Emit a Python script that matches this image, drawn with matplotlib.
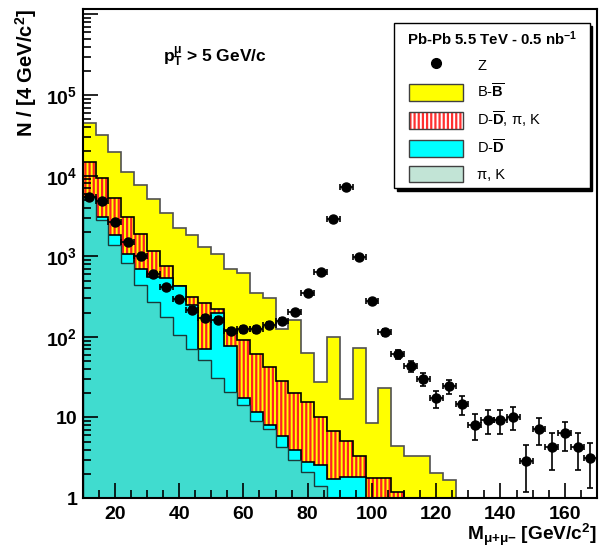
import numpy as np
import matplotlib
matplotlib.use('Agg')
import matplotlib.pyplot as plt
from matplotlib.patches import Patch
from matplotlib.lines import Line2D
from matplotlib.legend_handler import HandlerPatch, HandlerTuple, HandlerLine2D
from matplotlib.ticker import MultipleLocator, LogLocator, FuncFormatter, NullFormatter

plt.rcParams['font.family'] = ['Liberation Sans', 'DejaVu Sans']
plt.rcParams['font.weight'] = 'bold'
plt.rcParams['mathtext.fontset'] = 'custom'
plt.rcParams['mathtext.rm'] = 'Liberation Sans'
plt.rcParams['mathtext.bf'] = 'Liberation Sans:bold'
plt.rcParams['mathtext.it'] = 'Liberation Sans:italic'
plt.rcParams['hatch.linewidth'] = 1.6

# 4 GeV bins from 10 to 170
edges = np.arange(10, 171, 4)
centers = edges[:-1] + 2

# counts per bin
bb = [44600, 31600, 19600, 11200, 7580, 5130, 3400, 2220, 1820, 1300,
      1057, 689, 624, 347, 305, 124, 162, 63.5, 27.5, 98.6,
      16.9, 73.3, 8.6, 23, 4.42, 3.32, 3.32, 2.06, 1.67, 0,
      0, 0, 0, 0, 0, 0, 0, 0, 0, 0]
dd_pik = [14900, 9260, 5230, 3040, 1870, 1160, 755, 427, 315, 263,
          219, 121, 91, 61, 42.6, 28.5, 19.9, 15.4, 10, 6.7,
          5.1, 3.3, 1.75, 1.75, 1.18, 0, 0, 0, 0, 0,
          0, 0, 0, 0, 0, 0, 0, 0, 0, 0]
dd = [5400, 3090, 1820, 1056, 689, 560, 532, 427, 248, 70,
      195, 77, 17.3, 11.8, 8.05, 5.9, 4.0, 2.77, 2.6, 1.7,
      1.84, 1.84, 0, 0, 0, 0, 0, 0, 0, 0,
      0, 0, 0, 0, 0, 0, 0, 0, 0, 0]
pik = [5400, 2810, 1380, 817, 439, 273, 176, 105, 70, 51.5,
       30.5, 20.5, 14.3, 9.1, 7.1, 4.3, 3.0, 2.1, 1.4, 0,
       0, 0, 0, 0, 0, 0, 0, 0, 0, 0,
       0, 0, 0, 0, 0, 0, 0, 0, 0, 0]
z = [5380, 4840, 2680, 1510, 1015, 601, 419, 297, 218, 173,
     162, 118, 124, 124, 140, 157, 201, 345, 637, 2870,
     7290, 985, 278, 114, 61, 43, 29.7, 17.3, 24.5, 14.5,
     8.05, 9.3, 9.3, 10.2, 2.88, 7.2, 4.26, 6.35, 4.26, 3.11]

YELLOW = '#ffff00'
CYAN = '#00ffff'
TEAL = '#40dccf'

fig = plt.figure(figsize=(6.06, 5.48), dpi=100)
ax = fig.add_axes([0.1365, 0.0912, 0.8485, 0.8924])
ax.set_yscale('log')

base = 0.1


def draw_hist(vals, face, edge, hatch=None, lw=1.2):
    v = np.array(vals, dtype=float)
    v[v <= 0] = base
    if hatch:
        ax.stairs(v, edges, baseline=base, fill=True, facecolor='none',
                  edgecolor=face, hatch=hatch, lw=0)
    else:
        ax.stairs(v, edges, baseline=base, fill=True, facecolor=face, lw=0)
    ax.stairs(v, edges, baseline=base, fill=False, color=edge, lw=lw)


draw_hist(bb, YELLOW, '#505050')
draw_hist(dd_pik, '#ff2020', 'black', hatch='||||')
draw_hist(dd, CYAN, 'black')
draw_hist(pik, TEAL, '#1a3a3a', lw=1.0)

zz = np.array(z)
ax.errorbar(centers, zz, xerr=2, yerr=np.sqrt(zz), fmt='o', color='black',
            ms=6.5, elinewidth=1.2, capsize=2, capthick=1.2, zorder=5)

ax.set_xlim(10, 170)
ax.set_ylim(1, 1.17e6)

ax.xaxis.set_major_locator(MultipleLocator(20))
ax.xaxis.set_minor_locator(MultipleLocator(5))
ax.yaxis.set_major_locator(LogLocator(base=10))
ax.yaxis.set_minor_locator(LogLocator(base=10, subs=np.arange(2, 10)))
ax.yaxis.set_minor_formatter(NullFormatter())


def ylab(v, pos):
    e = int(round(np.log10(v)))
    if e < 0 or e >= 6:
        return ''
    if e == 0:
        return '1'
    if e == 1:
        return '10'
    return r'$\mathbf{10^{%d}}$' % e


ax.yaxis.set_major_formatter(FuncFormatter(ylab))
ax.tick_params(which='both', direction='in', top=False, right=False,
               width=1.2, labelsize=14)
ax.tick_params(which='major', length=11)
ax.tick_params(which='minor', length=5.5)
ax.tick_params(axis='x', pad=6)
ax.tick_params(axis='y', pad=4)
for s in ax.spines.values():
    s.set_linewidth(1.5)

ax.set_ylabel(r'N / [4 GeV/c$^{\mathbf{2}}$]', fontsize=14.5, fontweight='bold',
              loc='top', labelpad=5)
ax.set_xlabel(r'M$_{\mathbf{μ{+}μ{-}}}$ [GeV/c$^{\mathbf{2}}$]', fontsize=13.8,
              fontweight='bold', loc='right', labelpad=-1)

ax.text(0.156, 0.892, r'$\mathbf{p}_{\mathbf{T}}^{\mathbf{μ}}$ > 5 GeV/c',
        transform=ax.transAxes, fontsize=12.5, va='baseline', ha='left')

handles = [
    Line2D([], [], marker='o', ls='none', color='black', ms=7),
    Patch(facecolor=YELLOW, edgecolor='#404040', lw=1),
    (Patch(facecolor='white', edgecolor='#ff3030', hatch='||||', lw=0),
     Patch(facecolor='none', edgecolor='#404040', lw=1)),
    Patch(facecolor=CYAN, edgecolor='#404040', lw=1),
    Patch(facecolor='#c2e4d6', edgecolor='#404040', lw=1),
]
labels = ['Z', r'B-$\overline{\mathrm{B}}$', r'D-$\overline{\mathrm{D}}$, π, K',
          r'D-$\overline{\mathrm{D}}$', 'π, K']
hmap = {Patch: HandlerPatch(xpad=0.63), tuple: HandlerTuple(ndivide=1, xpad=0.63),
        Line2D: HandlerLine2D(xpad=0.63)}
leg = ax.legend(handles, labels, loc='upper left',
                bbox_to_anchor=(0.605, 0.630, 0.381, 0.341), mode='expand',
                title=r'Pb-Pb 5.5 TeV - 0.5 nb$^{\mathbf{-1}}$',
                title_fontproperties={'weight': 'bold', 'size': 10.8},
                prop={'weight': 'normal', 'size': 10.5}, frameon=True,
                fancybox=False, edgecolor='black', framealpha=1,
                shadow={'color': 'black', 'alpha': 1}, borderpad=0.4,
                handlelength=4.33, handleheight=1.35, handletextpad=1.0,
                labelspacing=0.62, borderaxespad=0, handler_map=hmap)
leg.get_frame().set_linewidth(1)
leg.set_zorder(10)

fig.savefig('out.png', dpi=100)
